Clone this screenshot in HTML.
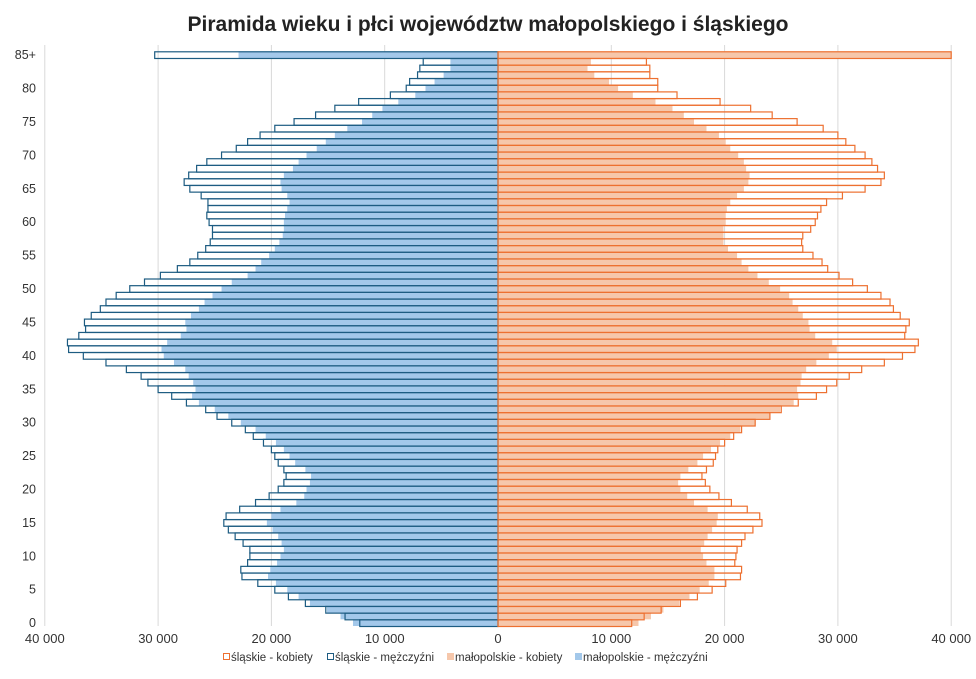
<!DOCTYPE html>
<html><head><meta charset="utf-8"><style>
body{margin:0;background:#fff;}
svg text{font-family:"Liberation Sans",Arial,sans-serif;}
</style></head><body>
<svg id="chart" width="976" height="674" viewBox="0 0 976 674" xmlns="http://www.w3.org/2000/svg">
<text x="488" y="31" text-anchor="middle" font-size="21" font-weight="bold" fill="#222">Piramida wieku i płci województw małopolskiego i śląskiego</text>
<g id="grid"></g>
<g id="bars"></g>
<g id="ylab"></g>
<g id="xlab"></g>
<g font-size="11.5" fill="#333">
  <g><rect x="223.5" y="653.5" width="6" height="6" fill="none" stroke="#ed7030"/><text x="231" y="661">śląskie - kobiety</text></g>
  <g><rect x="327.5" y="653.5" width="6" height="6" fill="none" stroke="#1d5c82"/><text x="335" y="661">śląskie - mężczyźni</text></g>
  <g><rect x="447" y="653" width="7" height="7" fill="#f6c7ab"/><text x="455" y="661">małopolskie - kobiety</text></g>
  <g><rect x="575" y="653" width="7" height="7" fill="#a3c8ea"/><text x="583" y="661">małopolskie - mężczyźni</text></g>
</g>
</svg>
<script>
const ages = Array.from({length:86},(_,i)=>i);
const slaskieM = [12.2,13.5,15.2,17.0,18.5,19.7,21.2,22.6,22.7,22.1,21.9,21.9,22.5,23.2,23.8,24.2,24.0,22.8,21.4,20.2,19.4,18.9,18.7,18.9,19.4,19.7,20.0,20.7,21.6,22.3,23.5,24.8,25.8,27.5,28.8,30.0,30.9,31.5,32.8,34.6,36.6,37.9,38.0,37.0,36.4,36.5,35.9,35.1,34.6,33.7,32.5,31.2,29.8,28.3,27.2,26.5,25.8,25.4,25.2,25.2,25.5,25.7,25.6,25.6,26.2,27.2,27.7,27.3,26.6,25.7,24.4,23.1,22.1,21.0,19.7,18.0,16.1,14.4,12.3,9.5,8.1,7.8,7.1,6.9,6.6,30.3];
const malopolskieM = [12.8,13.9,15.1,16.6,17.6,18.6,19.6,20.3,20.1,19.5,19.2,18.9,19.1,19.4,19.9,20.4,20.0,19.2,17.8,17.1,16.9,16.6,16.5,17.0,17.9,18.4,18.9,19.6,20.5,21.4,22.7,23.8,25.0,26.4,27.0,26.7,26.9,27.3,27.6,28.6,29.5,29.7,29.2,28.0,27.5,27.6,27.1,26.4,25.9,25.2,24.4,23.5,22.1,21.4,20.9,20.2,19.7,19.3,19.0,18.9,18.9,18.8,18.6,18.4,18.6,19.1,19.2,18.9,18.1,17.6,16.9,16.0,15.2,14.4,13.3,12.0,11.1,10.2,8.8,7.3,6.4,5.6,4.8,4.2,4.2,22.9];
const slaskieK = [11.8,12.9,14.4,16.1,17.6,18.9,20.1,21.4,21.5,20.9,21.0,21.1,21.5,21.8,22.5,23.3,23.1,22.0,20.6,19.5,18.7,18.3,18.0,18.4,19.0,19.2,19.4,20.0,20.8,21.5,22.7,24.0,25.0,26.5,28.1,29.0,29.9,31.0,32.1,34.1,35.7,36.8,37.1,35.9,36.0,36.3,35.5,34.9,34.6,33.8,32.6,31.3,30.1,29.1,28.6,27.8,26.9,26.8,26.9,27.6,28.0,28.2,28.5,29.0,30.4,32.4,33.8,34.1,33.5,33.0,32.4,31.5,30.7,30.0,28.7,26.4,24.2,22.3,19.6,15.8,14.1,14.1,13.4,13.4,13.1,40.0];
const malopolskieK = [12.4,13.5,14.6,16.0,16.9,17.8,18.6,19.1,19.1,18.4,18.1,17.9,18.2,18.5,18.9,19.3,19.4,18.5,17.3,16.7,16.1,15.9,16.1,16.8,17.6,18.1,18.8,19.6,20.5,21.4,22.7,24.0,24.9,26.1,26.5,26.4,26.7,26.8,27.2,28.1,29.2,29.9,29.5,28.0,27.5,27.4,26.9,26.5,26.0,25.7,24.9,23.9,22.9,22.1,21.5,21.1,20.3,19.9,19.9,19.9,20.1,20.1,20.2,20.5,21.1,21.7,22.1,22.2,21.9,21.7,21.2,20.5,20.1,19.5,18.4,17.3,16.4,15.4,13.9,11.9,10.6,9.8,8.5,7.9,8.2,40.0];
const xTicks = [-40,-30,-20,-10,0,10,20,30,40];
const xTickLabels = ["40 000","30 000","20 000","10 000","0","10 000","20 000","30 000","40 000"];

const NS="http://www.w3.org/2000/svg";
const X0=498, PX=11.33, BOTTOM=626, TOP=51.3, MAXV=40;
const RH=(BOTTOM-TOP)/ages.length;
function xs(v){return X0+Math.max(-MAXV,Math.min(MAXV,v))*PX;}
function yTop(i){return BOTTOM-(i+1)*RH;}
function mk(tag,attrs,parent){const e=document.createElementNS(NS,tag);for(const k in attrs)e.setAttribute(k,attrs[k]);parent.appendChild(e);return e;}
const grid=document.getElementById('grid'),bars=document.getElementById('bars'),ylab=document.getElementById('ylab'),xlab=document.getElementById('xlab');
xTicks.forEach((t,i)=>{
  if(t!==0){const l=mk('line',{x1:xs(t),x2:xs(t),y1:45,y2:BOTTOM,stroke:'#d9d9d9','stroke-width':1},grid);
  
  }
  const tx=mk('text',{x:xs(t),y:643,'text-anchor':'middle','font-size':13,fill:'#333'},xlab);
  tx.textContent=xTickLabels[i];
  
  
});
ages.forEach((a,i)=>{
  const y=yTop(i);
  const r1=mk('rect',{x:xs(-malopolskieM[i]),y:y,width:X0-xs(-malopolskieM[i]),height:RH,fill:'#a3c8ea'},bars);
  
  
  const r2=mk('rect',{x:X0,y:y,width:xs(malopolskieK[i])-X0,height:RH,fill:'#f6c7ab'},bars);
  
  
});
ages.forEach((a,i)=>{
  const y=yTop(i);
  const r3=mk('rect',{x:xs(-slaskieM[i]),y:y+0.5,width:X0-xs(-slaskieM[i]),height:RH,fill:'none',stroke:'#1d5c82','stroke-width':1.2},bars);
  
  
  const r4=mk('rect',{x:X0,y:y+0.5,width:xs(slaskieK[i])-X0,height:RH,fill:'none',stroke:'#ed7030','stroke-width':1.2},bars);
  
  
  if(a%5===0){
    const t=mk('text',{x:36,y:y+RH/2+4.5,'text-anchor':'end','font-size':12.5,fill:'#333'},ylab);
    t.textContent=(a===85?'85+':String(a));
    
    
  }
});
</script>
</body></html>
